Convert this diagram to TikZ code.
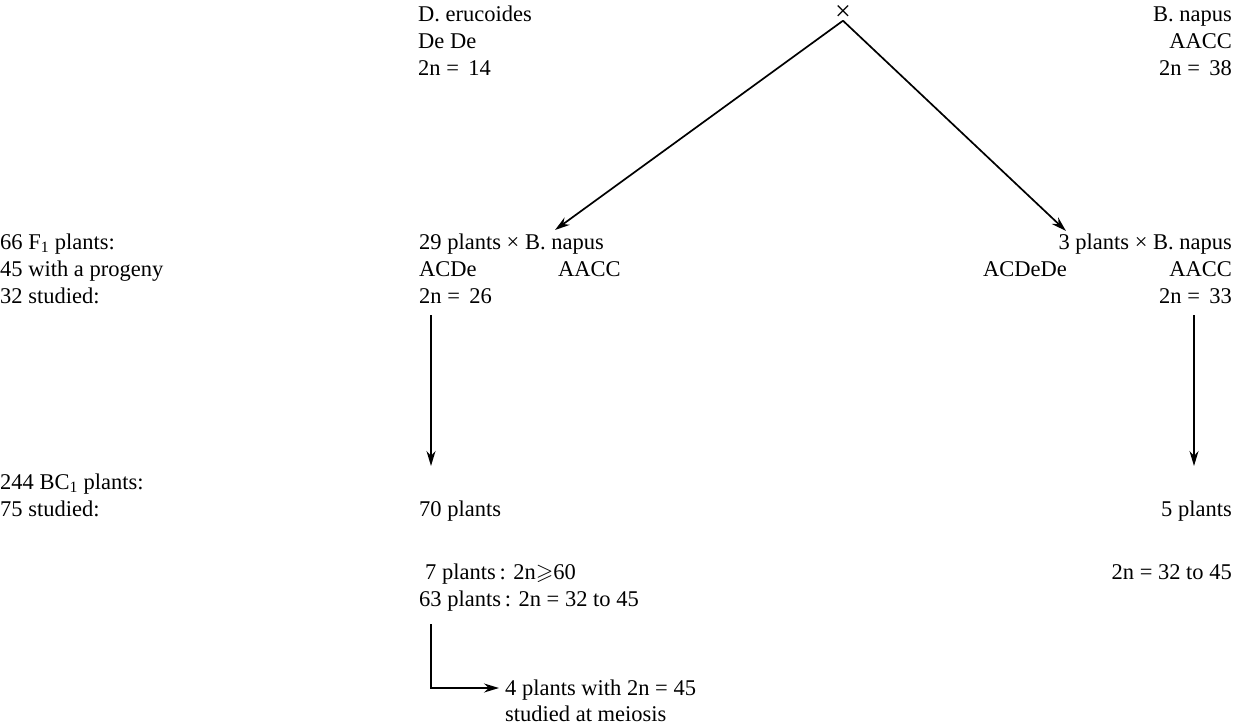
\documentclass[tikz,border=0pt]{standalone}
\usepackage{fontspec}
\setmainfont{Liberation Serif}
\usepackage{amssymb}
\usetikzlibrary{arrows.meta}
\begin{document}
\begin{tikzpicture}[x=1pt,y=-1pt,
  lbl/.style={inner sep=0pt,font=\fontsize{22.5}{27}\selectfont},
  lw/.style={lbl,anchor=base west},
  le/.style={lbl,anchor=base east},
  conn/.style={line width=1.7pt},
  arr/.style={conn,-{Stealth[length=15pt,width=9pt]}}]
\useasboundingbox (0,0) rectangle (1247,726);
% top row
\node[lw] (de1) at (418,21) {D. erucoides};
\node[lw] (de2) at (418,48) {De De};
\node[lw] (de3) at (418,75) {2n = \,14};
\node[lbl,font=\fontsize{28}{28}\selectfont] (cross) at (843,13) {×};
\node[le] (bn1) at (1232,21) {B. napus};
\node[le] (bn2) at (1232,48) {AACC};
\node[le] (bn3) at (1232,75) {2n = \,38};
% F1 row
\node[lw] (f1a) at (0,249) {66 F\textsubscript{1} plants:};
\node[lw] (f1b) at (0,276) {45 with a progeny};
\node[lw] (f1c) at (0,303) {32 studied:};
\node[lw] (l1) at (419,249) {29 plants × B. napus};
\node[lw] (l2) at (419,276) {ACDe};
\node[lw] (l2b) at (558,276) {AACC};
\node[lw] (l3) at (419,303) {2n = \,26};
\node[le] (r1) at (1232,249) {3 plants × B. napus};
\node[lw] (r2) at (983,276) {ACDeDe};
\node[le] (r2b) at (1232,276) {AACC};
\node[le] (r3) at (1232,303) {2n = \,33};
% BC1 row
\node[lw] (bc1) at (0,489) {244 BC\textsubscript{1} plants:};
\node[lw] (bc2) at (0,516) {75 studied:};
\node[lw] (l4) at (419,516) {70 plants};
\node[le] (r4) at (1232,516) {5 plants};
\node[lw] (l5) at (425,579) {7 plants\,: 2n$\geqslant$60};
\node[lw] (l6) at (419,606) {63 plants\,: 2n = 32 to 45};
\node[le] (r5) at (1232,579) {2n = 32 to 45};
\node[lw] (m1) at (505,695) {4 plants with 2n = 45};
\node[lw] (m2) at (505,721) {studied at meiosis};
% connectors
\coordinate (tipL) at (555,230);
\coordinate (tipR) at (1066,231);
\draw[arr] (cross.south) -- (tipL);
\draw[arr] (cross.south) -- (tipR);
\coordinate (v1s) at (431,315);
\coordinate (v1e) at (431,466);
\draw[arr] (v1s) -- (v1e);
\coordinate (v2s) at (1194,315);
\coordinate (v2e) at (1194,466);
\draw[arr] (v2s) -- (v2e);
\coordinate (e0) at (431,624);
\coordinate (e1) at (499,688);
\draw[arr] (e0) |- (e1);
\end{tikzpicture}
\end{document}
